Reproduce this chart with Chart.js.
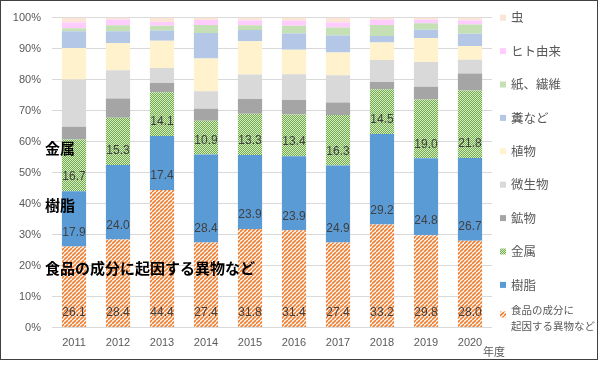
<!DOCTYPE html>
<html>
<head>
<meta charset="utf-8">
<script src="https://cdn.jsdelivr.net/npm/chart.js@4"></script>
<style>
  html, body { margin: 0; padding: 0; background: #fff; }
  #wrap { width: 600px; height: 371px; position: relative; }
</style>
</head>
<body>
<div id="wrap"><canvas id="chart1" width="600" height="371"></canvas></div>
<script>
// values (percent share per year)
const years = ['2011', '2012', '2013', '2014', '2015', '2016', '2017', '2018', '2019', '2020'];
const food    = [26.1, 28.4, 44.4, 27.4, 31.8, 31.4, 27.4, 33.2, 29.8, 28.0];
const resin   = [17.9, 24.0, 17.4, 28.4, 23.9, 23.9, 24.9, 29.2, 24.8, 26.7];
const metal   = [16.7, 15.3, 14.1, 10.9, 13.3, 13.4, 16.3, 14.5, 19.0, 21.8];
const mineral = [4.1, 6.2, 3.0, 3.9, 4.7, 4.7, 4.0, 2.3, 4.1, 5.5];
const microbe = [15.2, 9.1, 4.8, 5.6, 7.9, 8.3, 8.8, 7.1, 8.0, 4.4];
const plant   = [10.2, 8.8, 8.8, 10.6, 10.8, 7.9, 7.3, 5.7, 7.7, 4.4];
const feces   = [5.4, 3.8, 3.3, 8.2, 3.6, 5.3, 5.5, 2.1, 2.7, 4.0];
const paper   = [1.0, 1.9, 1.6, 2.6, 1.5, 2.5, 2.6, 3.5, 2.1, 3.0];
const human   = [1.8, 1.9, 1.2, 1.6, 1.6, 1.6, 1.6, 1.7, 1.1, 1.3];
const insect  = [1.6, 0.6, 1.4, 0.8, 0.9, 1.0, 1.6, 0.7, 0.7, 0.9];

const seriesNames = ['食品の成分に起因する異物など', '樹脂', '金属', '鉱物', '微生物', '植物', '糞など', '紙、繊維', 'ヒト由来', '虫'];
const legendNames = [['食品の成分に', '起因する異物など'], ['樹脂'], ['金属'], ['鉱物'], ['微生物'], ['植物'], ['糞など'], ['紙、繊維'], ['ヒト由来'], ['虫']];
const yTicks = [0, 10, 20, 30, 40, 50, 60, 70, 80, 90, 100];
const xTitle = '年度';
// callouts written over the plot, with the % level they sit at
const callouts = [['金属', 57.8], ['樹脂', 39.4], ['食品の成分に起因する異物など', 19.1]];

const JP = "'Noto Sans CJK JP', sans-serif";
const NUM = "'Liberation Sans', 'Noto Sans CJK JP', sans-serif";

function stripes(){
    const c = document.createElement('canvas');
    c.width = 4; c.height = 4;
    const g = c.getContext('2d');
    g.fillStyle = '#fff';
    g.fillRect(0, 0, 4, 4);
    g.strokeStyle = '#ED7D31';
    g.lineWidth = 1.6;
    [-4, 0, 4].forEach(dx => {
        g.beginPath();
        g.moveTo(dx, 4);
        g.lineTo(dx + 4, 0);
        g.stroke();
    });
    return g.createPattern(c, 'repeat');
}

function dots(){
    // green checker with light specks, like Excel's dotted fill
    const c = document.createElement('canvas');
    c.width = 2; c.height = 2;
    const g = c.getContext('2d');
    g.fillStyle = '#70AD47';
    g.fillRect(0, 0, 2, 2);
    g.fillStyle = '#D8ECCB';
    g.fillRect(0, 0, 1, 1);
    g.fillRect(1, 1, 1, 1);
    return g.createPattern(c, 'repeat');
}

const colors = [stripes(), '#5B9BD5', dots(), '#A5A5A5', '#D9D9D9', '#FFF2CC', '#B4C7E7', '#C5E0B4', '#FFCCFF', '#FBE5D6'];
const values = [food, resin, metal, mineral, microbe, plant, feces, paper, human, insect];

const extras = {
    id: 'extras',
    afterDatasetsDraw(chart){
        const ctx = chart.ctx;
        const area = chart.chartArea;
        const y = chart.scales.y;
        ctx.save();
        // value labels, inside base, for the first three series
        ctx.fillStyle = '#404040';
        ctx.font = '12px ' + NUM;
        ctx.textAlign = 'center';
        ctx.textBaseline = 'middle';
        for (let i = 0; i < 3; i++){
            chart.getDatasetMeta(i).data.forEach((bar, j) => {
                ctx.fillText(values[i][j].toFixed(1), bar.x, bar.base - 14);
            });
        }
        // callouts
        ctx.fillStyle = '#000';
        ctx.font = 'bold 15px ' + JP;
        ctx.textAlign = 'left';
        callouts.forEach(([t, v]) => ctx.fillText(t, area.left - 7, y.getPixelForValue(v)));
        // x title
        ctx.fillStyle = '#595959';
        ctx.font = '11px ' + JP;
        ctx.fillText(xTitle, area.right - 9, 352);
        // legend (reverse order, top to bottom)
        const lx = area.right + 8;
        const top = 17.7, step = 33.4;
        for (let k = 0; k < legendNames.length; k++){
            const idx = legendNames.length - 1 - k;
            const lines = legendNames[idx];
            const cy = lines.length > 1 ? 314.5 : top + k * step;
            ctx.fillStyle = colors[idx];
            ctx.fillRect(lx, cy - 3, 6, 6);
            ctx.fillStyle = '#595959';
            if (lines.length > 1){
                ctx.font = '10.5px ' + JP;
                ctx.fillText(lines[0], lx + 11, cy - 4);
                ctx.fillText(lines[1], lx + 11, cy + 12);
            } else {
                ctx.font = '12.5px ' + JP;
                ctx.fillText(lines[0], lx + 11, cy);
            }
        }
        // frame
        ctx.strokeStyle = '#404040';
        ctx.lineWidth = 1;
        ctx.strokeRect(0.5, 0.5, 597, 359);
        ctx.restore();
    }
};

new Chart('chart1', {
    type: 'bar',
    data: {
        labels: years,
        datasets: values.map((v, i) => ({
            label: seriesNames[i],
            data: v,
            backgroundColor: colors[i],
            borderWidth: 0,
            barPercentage: 0.55,
            categoryPercentage: 1
        }))
    },
    options: {
        responsive: false,
        animation: false,
        layout: { padding: { left: 0, right: 108, top: 17, bottom: 0 } },
        plugins: { legend: { display: false }, tooltip: { enabled: false }, title: { display: false } },
        scales: {
            x: {
                stacked: true,
                grid: { display: false, drawTicks: false },
                border: { display: false },
                ticks: { color: '#595959', font: { size: 11, family: NUM }, padding: 9 },
                afterFit: s => { s.height = 43.5; }
            },
            y: {
                stacked: true,
                min: 0,
                max: 100,
                grid: { color: '#D9D9D9', drawTicks: false },
                border: { display: false },
                afterBuildTicks: s => { s.ticks = yTicks.map(v => ({ value: v })); },
                ticks: { color: '#595959', font: { size: 11, family: NUM }, padding: 11, callback: v => v + '%' },
                afterFit: s => { s.width = 52; }
            }
        }
    },
    plugins: [extras]
});
</script>
</body>
</html>
